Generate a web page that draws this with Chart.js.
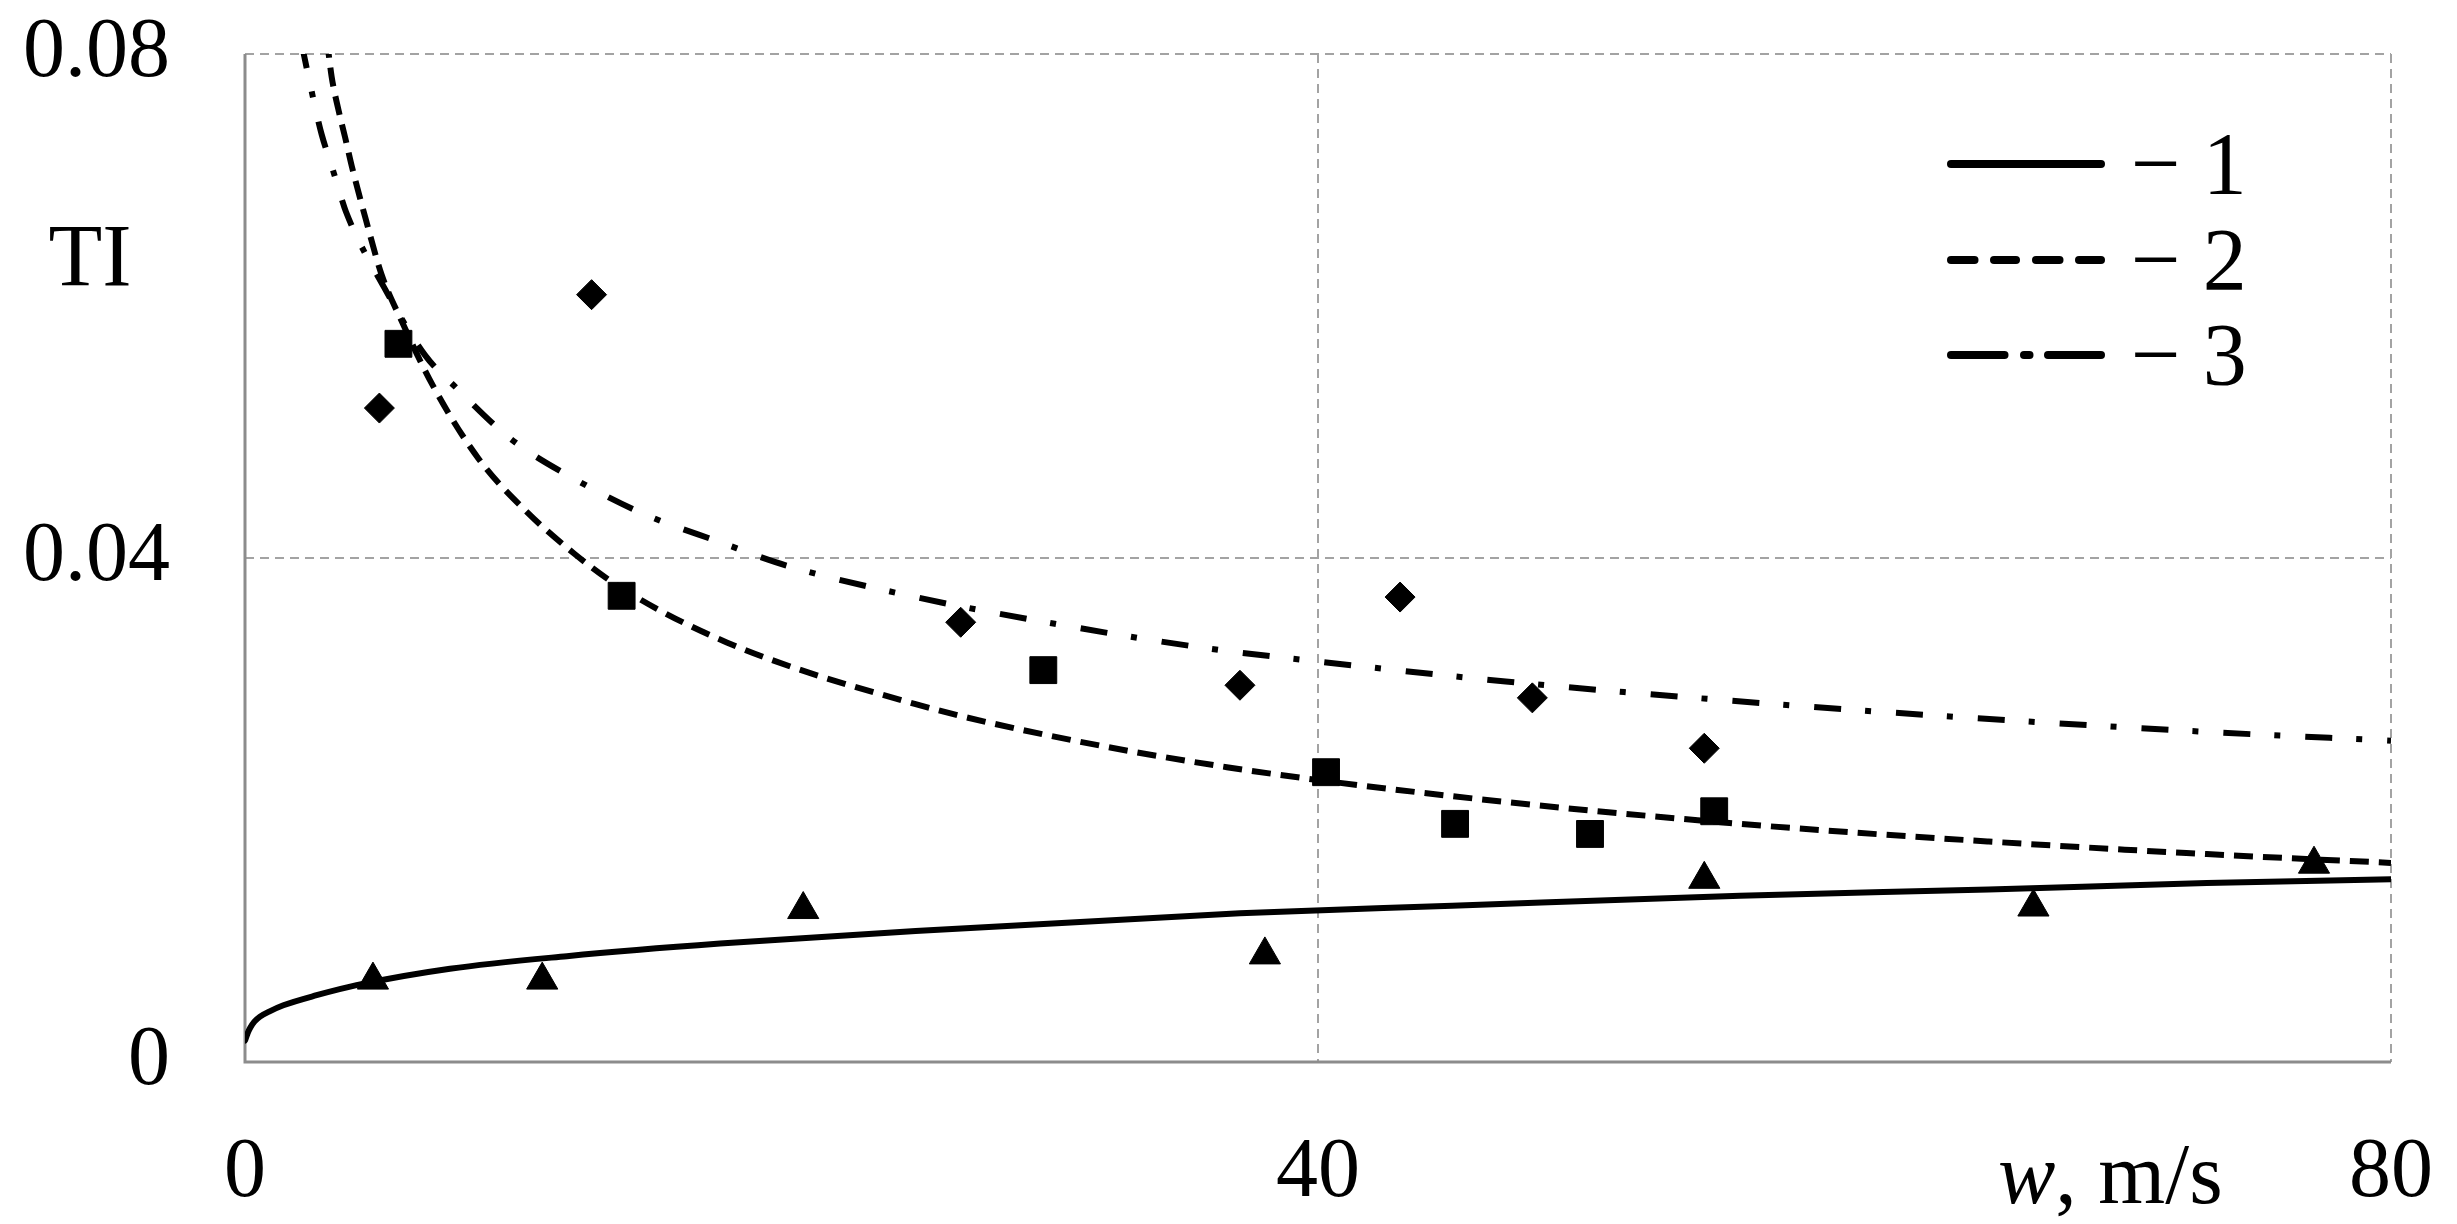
<!DOCTYPE html>
<html>
<head>
<meta charset="utf-8">
<script src="https://cdn.jsdelivr.net/npm/chart.js@4.4.1/dist/chart.umd.min.js"></script>
<style>
html, body { margin: 0; padding: 0; background: #ffffff; }
canvas { display: block; }
</style>
</head>
<body>
<canvas id="c" width="2457" height="1224"></canvas>
<script>
// ---------- data ----------
const xTicks = [0, 40, 80];
const yTicks = [0, 0.04, 0.08];
const legendLabels = ['\u2212 1', '\u2212 2', '\u2212 3'];
const xTitleItalic = 'w';
const xTitleRest = ', m/s';
const yTitle = 'TI';

// curve 1 (solid)
const curve1W  = [0, 0.05, 0.1, 0.19, 0.35, 0.56, 0.9, 1.43, 2.67, 4.16, 7.64, 12, 17.71, 25, 37.09, 45, 55.73, 65, 73.13, 80];
const curve1TI = [0.0017, 0.0020, 0.0023, 0.0027, 0.0032, 0.0036, 0.0040, 0.0045, 0.0053, 0.0061, 0.0074, 0.0084, 0.0094, 0.0104, 0.0118, 0.0124, 0.0132, 0.0137, 0.0142, 0.0145];

// curve 2 (dashed)
const curve2W  = [3.05, 3.23, 3.48, 3.73, 3.98, 4.5, 5.09, 5.84, 7, 8.7, 10.44, 12.3, 14.04, 17.96, 25, 30, 36.6, 45, 55.73, 65, 73.13, 80];
const curve2TI = [0.0812, 0.0782, 0.0756, 0.0734, 0.0711, 0.0669, 0.0625, 0.0588, 0.0537, 0.0479, 0.0438, 0.0403, 0.0376, 0.0333, 0.0284, 0.0259, 0.0234, 0.0211, 0.0189, 0.0175, 0.0165, 0.0158];

// curve 3 (dash-dot)
const curve3W  = [2.1, 2.2, 2.42, 2.61, 2.86, 3.23, 3.42, 3.76, 5.18, 6.71, 7.83, 9.94, 12.43, 14.97, 17.65, 20.19, 25, 30.13, 35.97, 39.95, 47, 55.24, 63, 73.13, 80];
const curve3TI = [0.0810, 0.0799, 0.0777, 0.0758, 0.0736, 0.0711, 0.0698, 0.0675, 0.0615, 0.0561, 0.0536, 0.0494, 0.0461, 0.0434, 0.0413, 0.0394, 0.0369, 0.0348, 0.0328, 0.0318, 0.0302, 0.0287, 0.0275, 0.0262, 0.0255];

// measured points
const diamondW  = [5.01, 12.92, 26.68, 37.09, 43.06, 47.99, 54.40];
const diamondTI = [0.0519, 0.0609, 0.0349, 0.0299, 0.0369, 0.0289, 0.0249];
const squareW   = [5.72, 14.04, 29.76, 40.30, 45.11, 50.14, 54.77];
const squareTI  = [0.0570, 0.0370, 0.0311, 0.0230, 0.0189, 0.0181, 0.0199];
const triangleW  = [4.77, 11.08, 20.81, 38.02, 54.40, 66.67, 77.13];
const triangleTI = [0.0065, 0.0065, 0.0121, 0.0085, 0.0145, 0.0123, 0.0157];

// ---------- chart ----------
const FONT = "'Liberation Serif', 'Times New Roman', Times, serif";
function pts(xs, ys) { return xs.map((x, i) => ({ x: x, y: ys[i] })); }

const decor = {
  id: 'decor',
  beforeDatasetsDraw(chart) {
    const { ctx, chartArea: a } = chart;
    ctx.save();
    ctx.setLineDash([]);
    ctx.strokeStyle = '#8c8c8c';
    ctx.lineWidth = 3;
    ctx.beginPath();
    ctx.moveTo(a.left, a.top);
    ctx.lineTo(a.left, a.bottom);
    ctx.lineTo(a.right, a.bottom);
    ctx.stroke();
    ctx.restore();
  },
  afterDraw(chart) {
    const { ctx, chartArea: a } = chart;
    ctx.save();
    ctx.fillStyle = '#000';
    ctx.strokeStyle = '#000';
    ctx.textBaseline = 'alphabetic';

    // y title
    ctx.font = '88px ' + FONT;
    ctx.textAlign = 'center';
    ctx.fillText(yTitle, a.left - 155, 285);

    // x title
    ctx.textAlign = 'left';
    const tx = a.right - 393;
    ctx.font = 'italic 86px ' + FONT;
    ctx.fillText(xTitleItalic, tx, 1203);
    const ww = ctx.measureText(xTitleItalic).width;
    ctx.font = '86px ' + FONT;
    ctx.fillText(xTitleRest, tx + ww, 1203);

    // legend
    const lx0 = a.right - 444;   // 1947
    const rows = [164, 260, 355];
    const segs = [
      [[0, 158]],
      [[0, 31.5], [43, 73], [85, 116.5], [128, 158]],
      [[0, 61.5], [73, 86.5], [97, 158]]
    ];
    ctx.lineCap = 'round';
    ctx.lineWidth = 8;
    const r = 4;
    rows.forEach((y, k) => {
      segs[k].forEach(s => {
        ctx.beginPath();
        ctx.moveTo(lx0 + s[0] + r, y);
        ctx.lineTo(lx0 + s[1] - r, y);
        ctx.stroke();
      });
      ctx.font = '88px ' + FONT;
      ctx.textAlign = 'left';
      ctx.fillText(legendLabels[k], lx0 + 184, y + 29);
    });
    ctx.restore();
  }
};

const gridColor = '#a3a3a3';

new Chart(document.getElementById('c'), {
  type: 'scatter',
  data: {
    datasets: [
      { label: 'diamonds', data: pts(diamondW, diamondTI), pointStyle: 'rectRot', pointRadius: 15,
        backgroundColor: '#000', borderColor: '#000', borderWidth: 1, showLine: false },
      { label: 'squares', data: pts(squareW, squareTI), pointStyle: 'rect', pointRadius: 19,
        backgroundColor: '#000', borderColor: '#000', borderWidth: 1, showLine: false },
      { label: 'triangles', data: pts(triangleW, triangleTI), pointStyle: 'triangle', pointRadius: 18,
        backgroundColor: '#000', borderColor: '#000', borderWidth: 1, showLine: false },
      { label: legendLabels[0], data: pts(curve1W, curve1TI), showLine: true, pointRadius: 0,
        borderColor: '#000', borderWidth: 6, cubicInterpolationMode: 'monotone', borderCapStyle: 'round' },
      { label: legendLabels[1], data: pts(curve2W, curve2TI), showLine: true, pointRadius: 0,
        borderColor: '#000', borderWidth: 6, borderDash: [19, 10], cubicInterpolationMode: 'monotone' },
      { label: legendLabels[2], data: pts(curve3W, curve3TI), showLine: true, pointRadius: 0,
        borderColor: '#000', borderWidth: 6, borderDash: [27, 24, 6, 25], cubicInterpolationMode: 'monotone' }
    ]
  },
  options: {
    responsive: false,
    animation: false,
    events: [],
    devicePixelRatio: 1,
    layout: { padding: { left: 0, top: 54, right: 66, bottom: 0 } },
    plugins: { legend: { display: false }, tooltip: { enabled: false }, title: { display: false } },
    scales: {
      x: {
        type: 'linear', min: 0, max: 80,
        afterBuildTicks: s => { s.ticks = xTicks.map(v => ({ value: v })); },
        afterFit: s => { s.height = 162; s.paddingLeft = 0; s.paddingRight = 0; },
        ticks: { color: '#000', font: { family: FONT, size: 84 }, padding: 62, maxRotation: 0, autoSkip: false,
                 callback: v => String(v) },
        grid: { color: gridColor, lineWidth: 2, drawTicks: false },
        border: { display: false, dash: [9, 6] }
      },
      y: {
        type: 'linear', min: 0, max: 0.08,
        afterBuildTicks: s => { s.ticks = yTicks.map(v => ({ value: v })); },
        afterFit: s => { s.width = 245; s.paddingTop = 0; s.paddingBottom = 0; },
        ticks: { color: '#000', font: { family: FONT, size: 84 }, padding: 75,
                 callback: v => (v === 0 ? '0' : v.toFixed(2)) },
        grid: { color: gridColor, lineWidth: 2, drawTicks: false },
        border: { display: false, dash: [9, 6] }
      }
    }
  },
  plugins: [decor]
});
</script>
</body>
</html>
